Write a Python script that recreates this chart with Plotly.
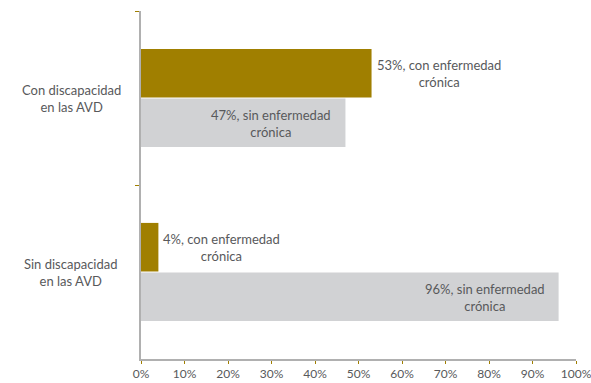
import plotly.graph_objects as go

categories = ["Con discapacidad<br>en las AVD", "Sin discapacidad<br>en las AVD"]
con_enfermedad = [53, 4]
sin_enfermedad = [47, 96]
tick_values = list(range(0, 101, 10))
tick_labels = [f"{v}%" for v in tick_values]

GOLD = "#a07f00"
GREY = "#d1d2d4"
TEXT = "#58595b"
FONT = "Lato"

fig = go.Figure()
fig.add_trace(go.Bar(y=categories, x=con_enfermedad, orientation="h",
                     marker=dict(color=GOLD, line=dict(width=0)), name="con"))
fig.add_trace(go.Bar(y=categories, x=sin_enfermedad, orientation="h",
                     marker=dict(color=GREY, line=dict(width=0)), name="sin"))

# value labels: gold bars labelled just past the bar end, grey bars inside near the end
for i, cat in enumerate(categories):
    v = con_enfermedad[i]
    fig.add_annotation(x=v, y=cat, yshift=25, xref="x", yref="y",
                       text=f"{v}%, con enfermedad<br>crónica", showarrow=False,
                       xanchor="left", xshift=3, align="center",
                       font=dict(family=FONT, size=13, color=TEXT))
    v = sin_enfermedad[i]
    fig.add_annotation(x=v, y=cat, yshift=-25, xref="x", yref="y",
                       text=f"{v}%, sin enfermedad<br>crónica", showarrow=False,
                       xanchor="right", xshift=-12, align="center",
                       font=dict(family=FONT, size=13, color=TEXT))
    # centred category label to the left of the axis
    fig.add_annotation(x=-0.16, y=cat, xref="paper", yref="y",
                       text=cat, showarrow=False, xanchor="center",
                       align="center",
                       font=dict(family=FONT, size=13, color=TEXT))

fig.update_layout(
    width=591, height=383,
    margin=dict(l=141, r=15, t=11, b=24),
    barmode="group", bargap=0.43, bargroupgap=0.02,
    paper_bgcolor="white", plot_bgcolor="white",
    showlegend=False,
    font=dict(family=FONT, size=13, color=TEXT),
)
fig.update_xaxes(range=[0, 100], tickvals=tick_values, ticktext=tick_labels,
                 showgrid=False, zeroline=False, automargin=False,
                 ticklabeloverflow="allow",
                 showline=True, linecolor="#b0b0b0", linewidth=1.5,
                 ticks="outside", ticklen=3, tickcolor=GOLD, tickwidth=1,
                 tickfont=dict(family=FONT, size=12, color=TEXT))
fig.update_yaxes(autorange="reversed", showgrid=False, zeroline=False,
                 automargin=False, showticklabels=False,
                 showline=True, linecolor="#b0b0b0", linewidth=2,
                 tickson="boundaries", ticks="outside", ticklen=4,
                 tickcolor=GOLD, tickwidth=1)

fig.write_html("out.html")
